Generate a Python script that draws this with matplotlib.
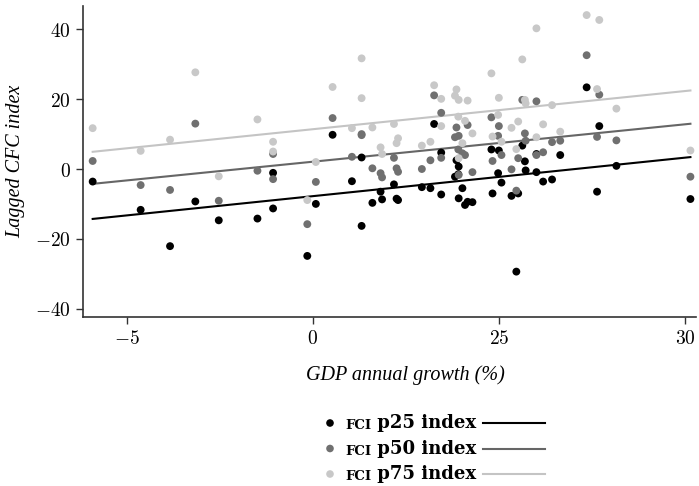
import matplotlib
matplotlib.use("Agg")
import matplotlib.pyplot as plt
import numpy as np

# GDP growth (axis units) and lagged CFC index at three FCI percentiles
gdp = [-5.92, -4.63, -3.84, -3.16, -2.53,
       -1.49, -1.07, -1.07, -0.15, 0.08, 0.53, 1.05, 1.31, 1.31, 1.60,
       1.82, 1.86, 2.18, 2.25, 2.29,
       2.93, 3.16, 3.26, 3.45, 3.45,
       3.82, 3.86, 3.92, 3.91, 3.92, 4.02, 4.09, 4.16, 4.29,
       4.80, 4.83, 5.00, 4.98, 5.07, 5.34, 5.52, 5.47, 5.63, 5.70, 5.72,
       6.01, 6.01, 6.19, 6.43, 6.65, 7.36, 7.70, 7.64, 8.16, 10.15]
fci_p25 = [-3.6, -11.7, -22.1, -9.3, -14.7,
           -14.2, -1.1, -11.3, -24.9, -10.0, 9.8, -3.5, 3.3, -16.3, -9.7,
           -6.5, -8.7, -4.4, -8.5, -8.9,
           -5.2, -5.5, 12.9, 4.7, -7.3,
           -2.2, 2.5, 0.7, -1.5, -8.4, -5.5, -10.3, -9.4, -9.5,
           5.6, -7.0, 5.3, -1.2, -3.9, -7.7, -7.0, -29.4, 6.7, 2.2, -0.4,
           4.3, -0.9, -3.6, -3.0, 4.0, 23.4, 12.3, -6.5, 0.9, -8.6]
fci_p50 = [2.3, -4.6, -6.0, 13.0, -9.1,
           -0.5, 4.3, -2.9, -15.8, -3.7, 14.6, 3.5, 10.0, 9.7, 0.2,
           -1.2, -2.4, 3.2, 0.2, -0.8,
           0.0, 2.5, 21.1, 16.1, 3.2,
           9.1, 11.9, 9.5, 5.6, -1.7, 4.5, 4.0, 12.6, -0.9,
           14.8, 2.3, 12.3, 9.5, 4.0, -0.1, 3.1, -6.2, 19.8, 10.2, 8.1,
           19.4, 4.0, 4.8, 7.7, 8.1, 32.6, 21.3, 9.2, 8.2, -2.2]
fci_p75 = [11.7, 5.2, 8.4, 27.7, -2.1,
           14.2, 7.8, 5.0, -8.9, 2.0, 23.5, 11.7, 31.7, 20.3, 11.9,
           6.2, 4.3, 12.9, 7.4, 8.8,
           6.7, 7.8, 24.0, 20.1, 12.3,
           21.0, 22.8, 19.8, 15.0, 3.1, 7.4, 13.8, 19.6, 10.2,
           27.4, 9.3, 20.4, 15.5, 7.8, 11.8, 13.6, 5.7, 31.4, 19.8, 18.8,
           40.3, 9.1, 12.8, 18.3, 10.7, 44.1, 42.7, 22.9, 17.3, 5.3]

series_names = ["p25", "p50", "p75"]
colors = ["#000000", "#707070", "#c8c8c8"]
line_colors = ["#000000", "#666666", "#c4c4c4"]

tick_pos = [-5, 0, 5, 10]
tick_labels = ["$-5$", "$0$", "$25$", "$30$"]

plt.rcParams["mathtext.fontset"] = "cm"
serif = "Liberation Serif"

W, H = 699, 486
fig = plt.figure(figsize=(W / 100, H / 100), dpi=100)
ax = fig.add_axes([83 / W, 1 - 317 / H, (696 - 83) / W, (317 - 6) / H])

x = np.array(gdp)
for name, ys, c, lc in zip(series_names, [fci_p25, fci_p50, fci_p75],
                           colors, line_colors):
    ys = np.array(ys)
    ax.scatter(x, ys, s=32, color=c, edgecolors="none", zorder=3)
    slope, icpt = np.polyfit(x, ys, 1)
    xx = np.array([x.min(), x.max()])
    ax.plot(xx, icpt + slope * xx, color=lc, lw=1.5, zorder=2)

ax.set_xlim(-6.18, 10.3)
ax.set_ylim(-42.4, 46.7)
ax.set_xticks(tick_pos)
ax.set_xticklabels(tick_labels)
ax.set_yticks([-40, -20, 0, 20, 40])
ax.set_yticklabels(["$-40$", "$-20$", "$0$", "$20$", "$40$"])
ax.tick_params(labelsize=14, length=5, width=1, color="#333333",
               direction="out", pad=4)
for side in ["top", "right"]:
    ax.spines[side].set_visible(False)
for side in ["left", "bottom"]:
    ax.spines[side].set_color("#333333")
    ax.spines[side].set_linewidth(1.2)

ax.set_ylabel("Lagged CFC index", family=serif, style="italic",
              fontsize=14.5)
ax.yaxis.set_label_coords((25 - 83) / (696 - 83), 0.5)
ax.set_xlabel("GDP annual growth (%)", family=serif, style="italic",
              fontsize=14.5)
ax.xaxis.set_label_coords((405 - 83) / (696 - 83), -0.155)

# legend: marker, label, then line sample
lg = fig.add_axes([0, 0, 1, 1], facecolor="none")
lg.set_xlim(0, W)
lg.set_ylim(H, 0)
lg.axis("off")
for i, (name, c, lc) in enumerate(zip(series_names, colors, line_colors)):
    row = 423 + 25.5 * i
    lg.scatter([330], [row], s=30, color=c, edgecolors="none")
    t1 = lg.text(345, row + 6, "FCI", family="DejaVu Serif", weight="bold",
                 fontsize=9.5, va="baseline")
    lg.annotate(" %s index" % name, xy=(1, 0), xycoords=t1,
                va="bottom", ha="left", family="DejaVu Serif",
                weight="bold", fontsize=13)
    lg.plot([483, 545], [row, row], color=lc, lw=1.5)

fig.savefig("out.png", dpi=100)
